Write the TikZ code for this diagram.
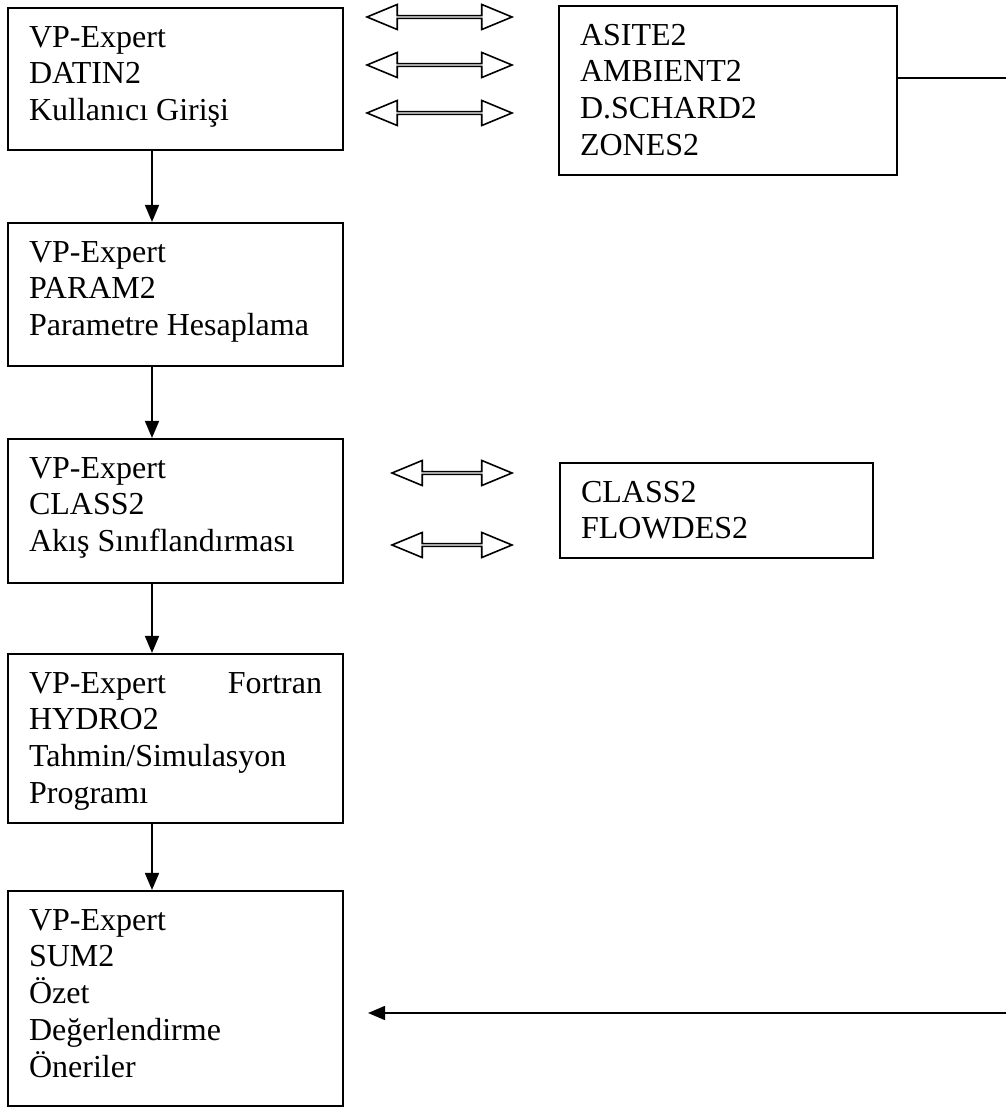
\documentclass[tikz,border=0pt]{standalone}
\usepackage{fontspec}
\setmainfont{Liberation Serif}
\usetikzlibrary{arrows.meta,shapes.arrows}

\begin{document}
\begin{tikzpicture}[x=0.375pt, y=-0.375pt, line width=0.8pt]
        \tikzstyle{kutu}=[draw, rectangle, anchor=north west, align=flush left, font=\fontsize{12}{13.8}\selectfont, inner xsep=7.875pt, inner ysep=6.75pt, text height=7.875pt, text width=109.875pt];
        \tikzstyle{cift}=[draw, double arrow, double arrow tip angle=45, double arrow head extend=2.44pt, minimum width=9.4pt, inner sep=0pt, line width=0.6pt];
        \tikzstyle{ok}=[-{Triangle[length=6.4pt, width=5.2pt]}];

        \useasboundingbox (0,0) rectangle (1006,1110);

        \node[kutu, text depth=31.875pt] (datin) at (7,7) {VP-Expert\\DATIN2\\Kullanıcı Girişi};
        \node[kutu, text depth=32.25pt] (param) at (7,222) {VP-Expert\\PARAM2\\Parametre Hesaplama};
        \node[kutu, text depth=32.625pt] (class) at (7,438) {VP-Expert\\CLASS2\\Akış Sınıflandırması};
        \node[kutu, text depth=42pt] (hydro) at (7,653) {VP-Expert\hfill Fortran\\HYDRO2\\Tahmin/Simulasyon\\Programı};
        \node[kutu, text depth=59.25pt] (sum) at (7,890) {VP-Expert\\SUM2\\Özet\\Değerlendirme\\Öneriler};
        \node[kutu, text depth=42pt, text width=111pt] (dosya) at (558,5) {ASITE2\\AMBIENT2\\D.SCHARD2\\ZONES2};
        \node[kutu, text depth=14.25pt, text width=101.625pt] (akis) at (559,462) {CLASS2\\FLOWDES2};

        \coordinate (kol) at (152,0);
        \foreach \a/\b in {datin/param, param/class, class/hydro, hydro/sum}{
          \draw[ok] (\a.south -| kol) -- (\b.north -| kol);
        }
        \foreach \y [count=\i] in {17,65,113}{
          \node[cift, minimum height=54.375pt] (ust\i) at (439.5,\y) {};
        }
        \foreach \y [count=\i] in {473,545}{
          \node[cift, minimum height=45pt] (orta\i) at (452,\y) {};
        }

        \coordinate (sag) at (1006,78);
        \coordinate (dip) at (1006,1013);
        \coordinate (uc) at (368,1013);
        \draw (dosya.east |- sag) -- (sag);
        \draw[ok] (dip) -- (uc);
\end{tikzpicture}
\end{document}
